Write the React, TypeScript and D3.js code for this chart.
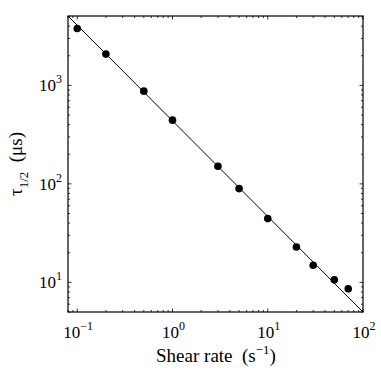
import * as d3 from "d3";

const shearRate = [0.1, 0.2, 0.5, 1, 3, 5, 10, 20, 30, 50, 70];
const tauHalf = [3780, 2080, 875, 444, 151, 89.6, 44.4, 22.9, 14.9, 10.6, 8.6];
// fitted power-law line, end points
const fitX = [0.08, 100];
const fitY = [5070, 5];
const xDecades = [-1, 0, 1, 2];
const yDecades = [1, 2, 3];

const W = 381;
const H = 371;
const m = { left: 68, right: 363, top: 16, bottom: 312 };
const font = "'Liberation Serif', 'Times New Roman', serif";

export default function App() {
  const x = d3.scaleLog().domain([0.08, 100]).range([m.left, m.right]);
  const y = d3.scaleLog().domain([5, 5070]).range([m.bottom, m.top]);

  const xMinor = x.ticks().filter((t) => !xDecades.some((d) => Math.abs(Math.log10(t) - d) < 1e-9));
  const yMinor = y.ticks().filter((t) => !yDecades.some((d) => Math.abs(Math.log10(t) - d) < 1e-9));

  const line = d3
    .line<number>()
    .x((_, i) => x(fitX[i]))
    .y((d) => y(d));

  const maj = 3.5;
  const min = 2;

  return (
    <svg width={W} height={H} style={{ position: "absolute", left: 0, top: 0 }} fontFamily={font}>
      <defs>
        <clipPath id="plot">
          <rect x={m.left} y={m.top} width={m.right - m.left} height={m.bottom - m.top} />
        </clipPath>
      </defs>
      <rect x={0} y={0} width={W} height={H} fill="#fff" />
      <g stroke="#000" strokeWidth={0.8}>
        {xDecades.map((d) => {
          const px = x(Math.pow(10, d));
          return (
            <g key={"xm" + d}>
              <line x1={px} x2={px} y1={m.bottom} y2={m.bottom - maj} />
              <line x1={px} x2={px} y1={m.top} y2={m.top + maj} />
            </g>
          );
        })}
        {xMinor.map((t) => (
          <g key={"xn" + t}>
            <line x1={x(t)} x2={x(t)} y1={m.bottom} y2={m.bottom - min} />
            <line x1={x(t)} x2={x(t)} y1={m.top} y2={m.top + min} />
          </g>
        ))}
        {yDecades.map((d) => {
          const py = y(Math.pow(10, d));
          return (
            <g key={"ym" + d}>
              <line x1={m.left} x2={m.left + maj} y1={py} y2={py} />
              <line x1={m.right} x2={m.right - maj} y1={py} y2={py} />
            </g>
          );
        })}
        {yMinor.map((t) => (
          <g key={"yn" + t}>
            <line x1={m.left} x2={m.left + min} y1={y(t)} y2={y(t)} />
            <line x1={m.right} x2={m.right - min} y1={y(t)} y2={y(t)} />
          </g>
        ))}
      </g>
      <path
        d={line(fitY) || ""}
        fill="none"
        stroke="#000"
        strokeWidth={1}
        clipPath="url(#plot)"
      />
      {shearRate.map((s, i) => (
        <circle key={s} cx={x(s)} cy={y(tauHalf[i])} r={3.8} fill="#000" />
      ))}
      <rect
        x={m.left}
        y={m.top}
        width={m.right - m.left}
        height={m.bottom - m.top}
        fill="none"
        stroke="#000"
        strokeWidth={1.2}
      />
      {xDecades.map((d) => (
        <text key={"xl" + d} x={x(Math.pow(10, d)) + 1} y={338} fontSize={17} textAnchor="middle">
          10
          <tspan dy={-8} fontSize={12}>
            {d < 0 ? "\u2212" + Math.abs(d) : d}
          </tspan>
        </text>
      ))}
      {yDecades.map((d) => (
        <text key={"yl" + d} x={62} y={y(Math.pow(10, d)) + 6} fontSize={17} textAnchor="end">
          10
          <tspan dy={-8} fontSize={12}>
            {d}
          </tspan>
        </text>
      ))}
      <text x={216} y={362} fontSize={19} textAnchor="middle">
        Shear rate{"\u00a0\u00a0"}(s
        <tspan dy={-8} fontSize={13}>
          {"\u2212"}1
        </tspan>
        <tspan dy={8}>)</tspan>
      </text>
      <text transform="translate(22,164) rotate(-90)" fontSize={19} textAnchor="middle">
        τ
        <tspan dy={6} fontSize={13}>
          1/2
        </tspan>
        <tspan dy={-6}>{"\u00a0\u00a0"}(μs)</tspan>
      </text>
    </svg>
  );
}
